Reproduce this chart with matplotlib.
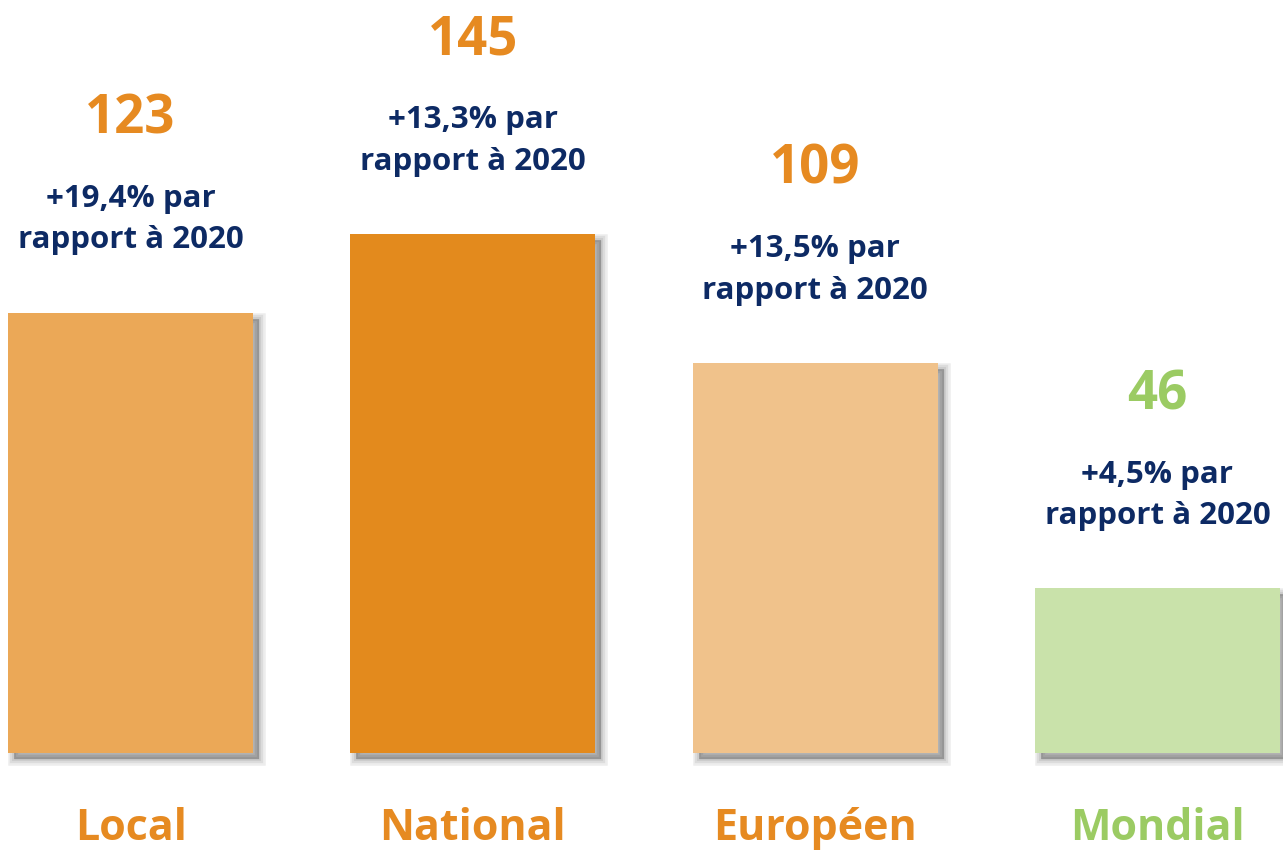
import matplotlib
matplotlib.use("Agg")
import matplotlib.pyplot as plt
import matplotlib.transforms as transforms
import numpy as np

plt.rcParams['font.family'] = ['Open Sans', 'DejaVu Sans']

categories = ["Local", "National", "Européen", "Mondial"]
values = [123, 145, 109, 46]
growth = ["+19,4%", "+13,3%", "+13,5%", "+4,5%"]

bar_colors = ["#EBA857", "#E38A1D", "#F0C28B", "#C9E2AA"]
text_colors = ["#E68A21", "#E68A21", "#E68A21", "#9BCB63"]
navy = "#0D2A64"

fig = plt.figure(figsize=(12.83, 8.5), dpi=100)
ax = fig.add_axes([0, 97 / 850, 1, 753 / 850])

x = np.arange(len(categories))
width = 0.716

# soft drop shadow: stacked offset copies with shrinking edges
shadow = transforms.ScaledTranslation(6 / 100, -6 / 100, fig.dpi_scale_trans)
for lw in [9, 6, 3, 0.1]:
    sh = ax.bar(x, values, width=width, color="black", edgecolor="black",
                linewidth=lw, alpha=0.07, zorder=1,
                transform=ax.transData + shadow)
    for p in sh:
        p.set_clip_on(False)

ax.bar(x, values, width=width, color=bar_colors, zorder=3)

for xi, v, g, tc in zip(x, values, growth, text_colors):
    ax.annotate(str(v), xy=(xi, v), xytext=(0, 139), textcoords="offset points",
                ha="center", va="center", fontsize=38, fontweight="bold",
                color=tc)
    ax.annotate(f"{g} par\nrapport à 2020", xy=(xi, v), xytext=(0, 67),
                textcoords="offset points", ha="center", va="center",
                fontsize=22.5, fontweight="bold", color=navy, linespacing=1.5)
    ax.annotate(categories[xi], xy=(xi, 0), xytext=(0, -54),
                textcoords="offset points", ha="center", va="center",
                fontsize=31, fontweight="bold", color=tc,
                annotation_clip=False)

ax.set_xlim(-130.5 / 342, 3 + (1283 - 1157.5) / 342)
ax.set_ylim(0, 145 * 753 / 519)
ax.axis("off")

fig.savefig("out.png", dpi=100)
